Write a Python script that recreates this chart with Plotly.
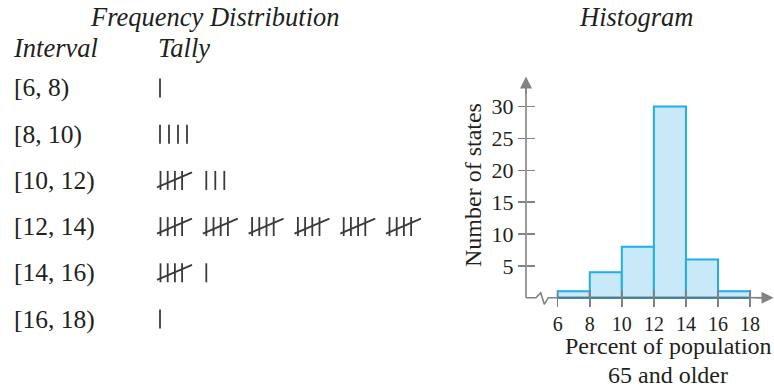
import plotly.graph_objects as go

# ---------------- data ----------------
bin_edges = [6, 8, 10, 12, 14, 16, 18]
counts = [1, 4, 8, 30, 6, 1]
interval_labels = ["[6, 8)", "[8, 10)", "[10, 12)", "[12, 14)", "[14, 16)", "[16, 18)"]
y_ticks = [5, 10, 15, 20, 25, 30]
x_ticks = [6, 8, 10, 12, 14, 16, 18]

table_title = "Frequency Distribution"
hist_title = "Histogram"
col_headers = ["Interval", "Tally"]
y_title = "Number of states"
x_title_lines = ["Percent of population", "65 and older"]

# ---------------- styles / layout ----------------
W, H = 774, 390
FONT = "Liberation Serif"
INK = "#231f20"
AXIS = "#808285"
BASE = "#4f7688"
BAR_FILL = "#c7e9f8"
BAR_LINE = "#21ade6"
TALLY = "#3a3a3a"

# pixel geometry of the histogram
ORIGIN_PX = (526.0, 297.7)       # axis corner
FIRST_TICK_PX = 557.7            # pixel of first bin edge
PX_PER_X = 16.03
PX_PER_Y = 6.37
PLOT_L, PLOT_R, PLOT_T, PLOT_B = 505, 774, 66, 318


def xv(px):
    return bin_edges[0] + (px - FIRST_TICK_PX) / PX_PER_X


def yv(py):
    return (ORIGIN_PX[1] - py) / PX_PER_Y


def xp(px):
    return px / W


def yp(py):
    return 1 - py / H


X_AX = xv(ORIGIN_PX[0])
X_TIP = xv(773.5)
Y_TIP = yv(76.5)
xr = [xv(PLOT_L), xv(PLOT_R)]
yr = [yv(PLOT_B), yv(PLOT_T)]

fig = go.Figure()

# bars
mids = [(a + b) / 2 for a, b in zip(bin_edges[:-1], bin_edges[1:])]
widths = [b - a for a, b in zip(bin_edges[:-1], bin_edges[1:])]
fig.add_trace(go.Bar(x=mids, y=counts, width=widths,
                     marker=dict(color=BAR_FILL, line=dict(color=BAR_LINE, width=2)),
                     hoverinfo="skip", showlegend=False))

# y axis line
fig.add_trace(go.Scatter(x=[X_AX, X_AX], y=[0, Y_TIP - 1.0], mode="lines",
                         line=dict(color=AXIS, width=1.6), hoverinfo="skip", showlegend=False))
# x axis line with break (zigzag offsets in px from axis corner)
brk_dx = [0, 10, 14.7, 18.3, 22.3]
brk_dy = [0, 0, 5.0, -6.6, 0]
bx = [xv(ORIGIN_PX[0] + d) for d in brk_dx] + [bin_edges[0]]
by = [d / PX_PER_Y for d in brk_dy] + [0]
fig.add_trace(go.Scatter(x=bx, y=by, mode="lines",
                         line=dict(color=AXIS, width=1.6), hoverinfo="skip", showlegend=False))
fig.add_trace(go.Scatter(x=[bin_edges[0], bin_edges[-1]], y=[0, 0], mode="lines",
                         line=dict(color=BASE, width=2), hoverinfo="skip", showlegend=False))
fig.add_trace(go.Scatter(x=[bin_edges[-1], X_TIP - 0.5], y=[0, 0], mode="lines",
                         line=dict(color=AXIS, width=1.6), hoverinfo="skip", showlegend=False))

# invisible trace for overlay tick axes
fig.add_trace(go.Scatter(x=[xr[0]], y=[yr[0]], xaxis="x3", yaxis="y3", mode="markers",
                         marker=dict(opacity=0), hoverinfo="skip", showlegend=False))

# ---------------- tallies (pixel overlay) ----------------
ROW_Y0, ROW_DY = 88, 46.2
TALLY_X0, GROUP_DX, SINGLE_DX, STROKE_H = 158, 45.8, 9.0, 19
tx, ty = [], []
for r, c in enumerate(counts):
    cy = ROW_Y0 + r * ROW_DY
    top, bot = cy - STROKE_H / 2, cy + STROKE_H / 2
    groups, singles = divmod(c, 5)
    for g in range(groups):
        gx = TALLY_X0 + g * GROUP_DX
        for i in range(4):
            vx = gx + 2.5 + 7.2 * i
            tx += [vx, vx, None]
            ty += [top, bot, None]
        tx += [gx - 1, gx + 34, None]
        ty += [bot - 2.5, top + 1.5, None]
    sx0 = TALLY_X0 + groups * GROUP_DX + (2.5 if groups else 2)
    for s in range(singles):
        vx = sx0 + s * SINGLE_DX
        tx += [vx, vx, None]
        ty += [top, bot, None]
fig.add_trace(go.Scatter(x=tx, y=ty, xaxis="x2", yaxis="y2", mode="lines",
                         line=dict(color=TALLY, width=1.8), hoverinfo="skip", showlegend=False))

# ---------------- annotations ----------------
ann = []
ital = dict(family=FONT, size=26.5, color=INK, style="italic")
reg = dict(family=FONT, size=25.5, color=INK)
lab = dict(family=FONT, size=24, color=INK)
ann.append(dict(text=table_title, x=xp(215), y=yp(17), xanchor="center", yanchor="middle", font=ital))
ann.append(dict(text=hist_title, x=xp(636), y=yp(17), xanchor="center", yanchor="middle", font=ital))
ann.append(dict(text=col_headers[0], x=xp(11), y=yp(48), xanchor="left", yanchor="middle", font=ital))
ann.append(dict(text=col_headers[1], x=xp(156), y=yp(48), xanchor="left", yanchor="middle", font=ital))
for r, t in enumerate(interval_labels):
    ann.append(dict(text=t, x=xp(12), y=yp(ROW_Y0 + r * ROW_DY), xanchor="left",
                    yanchor="middle", font=reg))
ann.append(dict(text=y_title, x=xp(473), y=yp(185), xanchor="center", yanchor="middle",
                textangle=-90, font=lab))
for i, t in enumerate(x_title_lines):
    ann.append(dict(text=t, x=xp(668), y=yp(346 + 28.5 * i), xanchor="center",
                    yanchor="middle", font=lab))
for a in ann:
    a.update(xref="paper", yref="paper", showarrow=False)

# arrowheads
ann.append(dict(text="", x=X_AX, y=Y_TIP, ax=X_AX, ay=Y_TIP - 3, xref="x", yref="y",
                axref="x", ayref="y", showarrow=True, arrowhead=2, arrowsize=1.5,
                arrowwidth=1.6, arrowcolor=AXIS))
ann.append(dict(text="", x=X_TIP, y=0, ax=X_TIP - 1.2, ay=0, xref="x", yref="y",
                axref="x", ayref="y", showarrow=True, arrowhead=2, arrowsize=1.5,
                arrowwidth=1.6, arrowcolor=AXIS))

dom_x = [xp(PLOT_L), xp(PLOT_R)]
dom_y = [yp(PLOT_B), yp(PLOT_T)]
tickfont_x = dict(family=FONT, size=20, color=INK)
tickfont_y = dict(family=FONT, size=22, color=INK)
common = dict(showgrid=False, zeroline=False, showline=False, tickcolor=AXIS, tickwidth=1.5,
              ticklen=8)

fig.update_layout(
    width=W, height=H, margin=dict(l=0, r=0, t=0, b=0),
    paper_bgcolor="white", plot_bgcolor="rgba(0,0,0,0)",
    showlegend=False, bargap=0,
    xaxis=dict(domain=dom_x, range=xr, anchor="free", position=yp(ORIGIN_PX[1]),
               tickvals=x_ticks, ticktext=[str(v) for v in x_ticks], ticks="outside",
               tickfont=tickfont_x, **common),
    yaxis=dict(domain=dom_y, range=yr, anchor="free", position=xp(ORIGIN_PX[0]),
               tickvals=y_ticks, ticktext=[str(v) for v in y_ticks], ticks="outside",
               tickfont=tickfont_y, **common),
    xaxis3=dict(overlaying="x", range=xr, anchor="free", position=yp(ORIGIN_PX[1]),
                tickvals=x_ticks, ticks="inside", showticklabels=False, **common),
    yaxis3=dict(overlaying="y", range=yr, anchor="free", position=xp(ORIGIN_PX[0]),
                tickvals=y_ticks, ticks="inside", showticklabels=False, **common),
    xaxis2=dict(domain=[0, 1], range=[0, W], visible=False, anchor="y2"),
    yaxis2=dict(domain=[0, 1], range=[H, 0], visible=False, anchor="x2"),
    annotations=ann,
)

fig.write_html("out.html", config=dict(displayModeBar=False, staticPlot=True),
               post_script="document.body.style.margin='0';document.body.style.overflow='hidden';")
